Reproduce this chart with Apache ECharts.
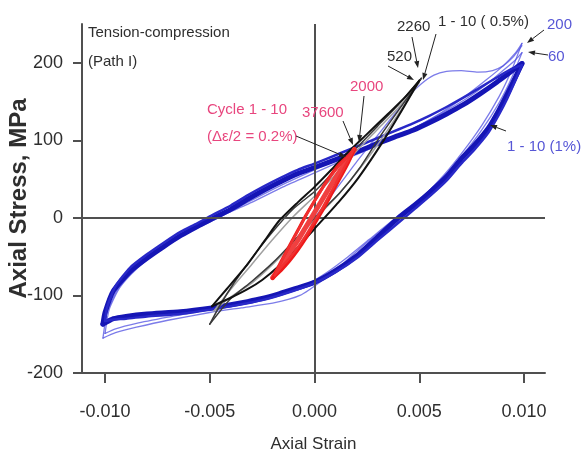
<!DOCTYPE html>
<html>
<head>
<meta charset="utf-8">
<script src="https://cdn.jsdelivr.net/npm/echarts@6/dist/echarts.min.js"></script>
<style>
html,body{margin:0;padding:0;background:#fff;}
#chart{width:582px;height:457px;}
</style>
</head>
<body>
<div id="chart"></div>
<script>
// ---------------- DATA ----------------
const xTicks = [-0.010, -0.005, 0.000, 0.005, 0.010];
const yTicks = [-200, -100, 0, 100, 200];

// Δε/2 = 1 %, cycles 1-10 (thick blue band)
const blue1Upper = [[-0.0101,-137],[-0.0100,-122],[-0.0096,-94],[-0.0088,-69],[-0.0080,-52],[-0.0072,-37],[-0.0064,-23],[-0.0056,-11],[-0.0048,0],[-0.0040,11],[-0.0032,24],[-0.0024,36],[-0.0016,47],[-0.0008,57],[0.0000,65],[0.0012,77],[0.0022,87],[0.0031,97],[0.0040,106],[0.0047,113],[0.0055,123],[0.0063,134],[0.0071,146],[0.0079,160],[0.0087,175],[0.0094,189],[0.0099,199]];
const blue1Lower = [[0.0099,199],[0.0096,182],[0.0092,160],[0.0088,139],[0.0083,116],[0.0076,93],[0.0070,76],[0.0063,53],[0.0055,33],[0.0048,17],[0.0040,0],[0.0030,-25],[0.0021,-47],[0.0010,-68],[0.0000,-83],[-0.0010,-92],[-0.0017,-98],[-0.0025,-104],[-0.0032,-108],[-0.0040,-112],[-0.0049,-116],[-0.0064,-121],[-0.0080,-124],[-0.0090,-127],[-0.0096,-130],[-0.0101,-137]];
const blue2Upper = [[-0.0100,-133],[-0.0099,-115],[-0.0095,-88],[-0.0088,-64],[-0.0080,-47],[-0.0072,-32],[-0.0064,-18],[-0.0056,-7],[-0.0050,2],[-0.0040,16],[-0.0032,29],[-0.0024,41],[-0.0016,52],[-0.0008,62],[0.0000,70],[0.0012,83],[0.0022,94],[0.0031,104],[0.0040,114],[0.0047,122],[0.0055,132],[0.0063,143],[0.0071,155],[0.0079,168],[0.0087,181],[0.0094,192],[0.0099,197]];
const blue2Lower = [[0.0099,197],[0.0096,178],[0.0092,154],[0.0088,133],[0.0083,110],[0.0076,87],[0.0070,70],[0.0063,48],[0.0055,28],[0.0048,12],[0.0041,-4],[0.0030,-29],[0.0021,-50],[0.0010,-70],[0.0000,-84],[-0.0010,-94],[-0.0017,-100],[-0.0025,-106],[-0.0032,-110],[-0.0040,-114],[-0.0049,-118],[-0.0064,-124],[-0.0080,-127],[-0.0090,-130],[-0.0096,-131],[-0.0100,-133]];
// cycle 60 and cycle 200 at 1 % (thin light blue)
const c60Upper = [[-0.0100,-149],[-0.0098,-118],[-0.0093,-90],[-0.0085,-66],[-0.0076,-46],[-0.0066,-28],[-0.0056,-13],[-0.0046,0],[-0.0032,20],[-0.0016,42],[0.0000,62],[0.0015,80],[0.0030,96],[0.0045,113],[0.0060,134],[0.0072,153],[0.0082,172],[0.0090,190],[0.0096,204],[0.0099,213]];
const c60Lower = [[0.0099,213],[0.0094,180],[0.0088,148],[0.0080,114],[0.0071,82],[0.0062,54],[0.0052,28],[0.0042,6],[0.0036,-6],[0.0026,-28],[0.0016,-50],[0.0006,-70],[-0.0004,-86],[-0.0015,-98],[-0.0030,-106],[-0.0050,-118],[-0.0070,-128],[-0.0085,-136],[-0.0095,-143],[-0.0100,-149]];
const c200Upper = [[-0.0101,-155],[-0.0099,-122],[-0.0094,-92],[-0.0086,-67],[-0.0076,-45],[-0.0066,-26],[-0.0055,-10],[-0.0045,2],[-0.0030,20],[-0.0015,40],[0.0000,58],[0.0015,76],[0.0030,93],[0.0045,112],[0.0060,135],[0.0072,157],[0.0082,178],[0.0090,196],[0.0096,213],[0.0099,225]];
const c200Lower = [[0.0099,225],[0.0094,190],[0.0088,156],[0.0080,120],[0.0071,86],[0.0062,56],[0.0052,28],[0.0042,4],[0.0034,-12],[0.0024,-34],[0.0014,-58],[0.0004,-80],[-0.0007,-100],[-0.0020,-110],[-0.0035,-116],[-0.0050,-122],[-0.0070,-132],[-0.0085,-141],[-0.0095,-148],[-0.0101,-155]];
const firstTension = [[0.0000,0],[0.0010,36],[0.0020,72],[0.0030,106],[0.0040,140],[0.0046,160],[0.0051,173],[0.0057,184],[0.0063,189],[0.0070,190],[0.0078,188],[0.0085,190],[0.0090,196],[0.0095,208],[0.0099,222]];

// Δε/2 = 0.5 %, cycles 1-10 (black), 520 and 2260 (grey)
const blackUpper = [[-0.0049,-114],[-0.0042,-92],[-0.0032,-60],[-0.0024,-30],[-0.0017,-4],[-0.0008,20],[0.0000,40],[0.0008,62],[0.0015,82],[0.0025,108],[0.0035,134],[0.0043,155],[0.0050,177]];
const blackLower = [[0.0050,177],[0.0042,140],[0.0033,100],[0.0021,52],[0.0012,22],[0.0000,-14],[-0.0008,-38],[-0.0017,-62],[-0.0025,-80],[-0.0032,-92],[-0.0040,-103],[-0.0049,-114]];
const c2260Upper = [[-0.0050,-137],[-0.0045,-112],[-0.0038,-82],[-0.0030,-52],[-0.0020,-18],[-0.0010,12],[0.0000,34],[0.0010,62],[0.0020,90],[0.0030,118],[0.0040,146],[0.0051,180]];
const c2260Lower = [[0.0051,180],[0.0042,146],[0.0032,108],[0.0022,66],[0.0012,32],[0.0000,0],[-0.0010,-30],[-0.0020,-58],[-0.0030,-82],[-0.0040,-104],[-0.0050,-137]];
const c520Upper = [[-0.0048,-120],[-0.0040,-92],[-0.0030,-60],[-0.0020,-28],[-0.0010,2],[0.0000,28],[0.0010,56],[0.0020,86],[0.0030,114],[0.0040,142],[0.0050,175]];
const c520Lower = [[0.0050,175],[0.0040,134],[0.0030,94],[0.0020,58],[0.0010,26],[0.0000,-2],[-0.0010,-32],[-0.0020,-60],[-0.0030,-84],[-0.0040,-102],[-0.0048,-120]];

// Δε/2 = 0.2 % (red)
const redUpper = [[-0.0020,-78],[-0.0016,-56],[-0.0012,-36],[-0.0008,-16],[-0.0004,4],[0.0000,22],[0.0004,40],[0.0008,56],[0.0012,70],[0.0016,80],[0.0019,88]];
const redLower = [[0.0019,88],[0.0016,70],[0.0012,50],[0.0008,30],[0.0004,10],[0.0000,-8],[-0.0004,-26],[-0.0008,-42],[-0.0012,-56],[-0.0016,-68],[-0.0020,-78]];
const red2Upper = [[-0.0019,-74],[-0.0015,-52],[-0.0011,-32],[-0.0007,-12],[-0.0003,8],[0.0001,26],[0.0005,43],[0.0009,58],[0.0013,71],[0.0017,82],[0.0019,90]];
const red2Lower = [[0.0019,90],[0.0016,74],[0.0012,54],[0.0008,34],[0.0004,14],[0.0000,-4],[-0.0004,-22],[-0.0008,-38],[-0.0012,-52],[-0.0016,-64],[-0.0019,-74]];
const redMid = [[-0.0020,-77],[-0.0016,-61],[-0.0012,-45],[-0.0008,-29],[-0.0004,-11],[0.0000,7],[0.0004,25],[0.0008,43],[0.0012,60],[0.0016,75],[0.0019,88]];

// ---------------- STYLE / LAYOUT ----------------
const FONT = '"Liberation Sans", Arial, sans-serif';
const DARK = '#2e2e2e', PINK = '#e8467e', BLUEL = '#5656d6';

function lineSeries(data, color, width, z) {
  return {
    type: 'line', data: data, showSymbol: false, symbol: 'none',
    smooth: 0.2, z: z, silent: true,
    lineStyle: { color: color, width: width, cap: 'round', join: 'round' }
  };
}

const series = [];
const THIN = 'rgba(80,80,225,0.75)';
[c200Upper, c200Lower, c60Upper, c60Lower, firstTension].forEach(d => series.push(lineSeries(d, THIN, 1.3, 2)));
[blue1Upper, blue1Lower].forEach(d => series.push(lineSeries(d, '#1515b5', 5, 3)));
[blue2Upper, blue2Lower].forEach(d => series.push(lineSeries(d, '#2828c8', 2.5, 3)));
[c520Upper, c520Lower].forEach(d => series.push(lineSeries(d, '#a0a0a0', 1.5, 4)));
[c2260Upper, c2260Lower].forEach(d => series.push(lineSeries(d, '#3a3a3a', 1.5, 4)));
[blackUpper, blackLower].forEach(d => series.push(lineSeries(d, '#111', 2, 5)));
[redMid].forEach(d => series.push(lineSeries(d, '#f04040', 5, 6)));
[redUpper, redLower].forEach(d => series.push(lineSeries(d, '#ee1a1a', 3, 6)));
[red2Upper, red2Lower].forEach(d => series.push(lineSeries(d, '#f03030', 2.5, 6)));

// zero lines
series.push({
  type: 'line', data: [], z: 1, silent: true,
  markLine: {
    silent: true, symbol: ['none', 'none'], animation: false,
    label: { show: false },
    lineStyle: { color: '#505050', width: 2, type: 'solid' },
    data: [{ xAxis: 0 }, { yAxis: 0 }]
  }
});

// annotation text (pixel layout)
const notes = [
  ['Tension-compression', 88, 33, DARK],
  ['(Path I)', 88, 62, DARK],
  ['Cycle 1 - 10', 207, 110, PINK],
  ['(\u0394\u03b5/2 = 0.2%)', 207, 137, PINK],
  ['37600', 302, 113, PINK],
  ['2000', 350, 87, PINK],
  ['520', 387, 57, DARK],
  ['2260', 397, 27, DARK],
  ['1 - 10 ( 0.5%)', 438, 22, DARK],
  ['200', 547, 25, BLUEL],
  ['60', 548, 57, BLUEL],
  ['1 - 10 (1%)', 507, 147, BLUEL]
];
const arrows = [
  [412, 37, 418, 68], [436, 34, 423, 80], [388, 66, 414, 80],
  [364, 96, 359, 142], [343, 121, 353, 145], [296, 136, 346, 157],
  [544, 30, 527, 43], [548, 55, 528, 52], [506, 131, 490, 125]
];
const graphics = [];
notes.forEach(n => graphics.push({
  type: 'text', silent: true, z: 20,
  style: { text: n[0], x: n[1], y: n[2], fill: n[3], font: '15px ' + FONT,
           textAlign: 'left', textVerticalAlign: 'middle', align: 'left', verticalAlign: 'middle' }
}));
arrows.forEach(a => {
  const [x1, y1, x2, y2] = a;
  const ang = Math.atan2(y2 - y1, x2 - x1);
  const L = 7, W = 2.6;
  const bx = x2 - L * Math.cos(ang), by = y2 - L * Math.sin(ang);
  const px = -Math.sin(ang) * W, py = Math.cos(ang) * W;
  graphics.push({ type: 'line', silent: true, z: 20, shape: { x1: x1, y1: y1, x2: bx, y2: by }, style: { stroke: '#222', lineWidth: 1 } });
  graphics.push({ type: 'polygon', silent: true, z: 20, shape: { points: [[x2, y2], [bx + px, by + py], [bx - px, by - py]] }, style: { fill: '#222' } });
});

const chart = echarts.init(document.getElementById('chart'), null, { renderer: 'canvas' });
chart.setOption({
  animation: false,
  backgroundColor: '#fff',
  grid: { left: 82, right: 37, top: 24, bottom: 84, containLabel: false, outerBoundsMode: 'none' },
  xAxis: {
    type: 'value', min: -0.0111, max: 0.011,
    name: 'Axial Strain', nameLocation: 'middle', nameGap: 63, nameMoveOverlap: false,
    nameTextStyle: { fontFamily: FONT, fontSize: 17, color: DARK },
    axisLine: { show: true, onZero: false, lineStyle: { color: '#505050', width: 2 } },
    axisTick: { show: true, inside: false, length: 10, customValues: xTicks, lineStyle: { color: '#505050', width: 2 } },
    axisLabel: { customValues: xTicks, margin: 30, fontFamily: FONT, fontSize: 18, color: DARK,
                 formatter: v => v.toFixed(3) },
    splitLine: { show: false }
  },
  yAxis: {
    type: 'value', min: -200, max: 250,
    name: 'Axial Stress, MPa', nameLocation: 'middle', nameGap: 51, nameMoveOverlap: false,
    nameTextStyle: { fontFamily: FONT, fontWeight: 'bold', fontSize: 24, color: DARK },
    axisLine: { show: true, onZero: false, lineStyle: { color: '#505050', width: 2 } },
    axisTick: { show: true, inside: false, length: 9, customValues: yTicks, lineStyle: { color: '#505050', width: 2 } },
    axisLabel: { customValues: yTicks, margin: 19, fontFamily: FONT, fontSize: 18, color: DARK },
    splitLine: { show: false }
  },
  series: series,
  graphic: graphics
});
</script>
</body>
</html>
